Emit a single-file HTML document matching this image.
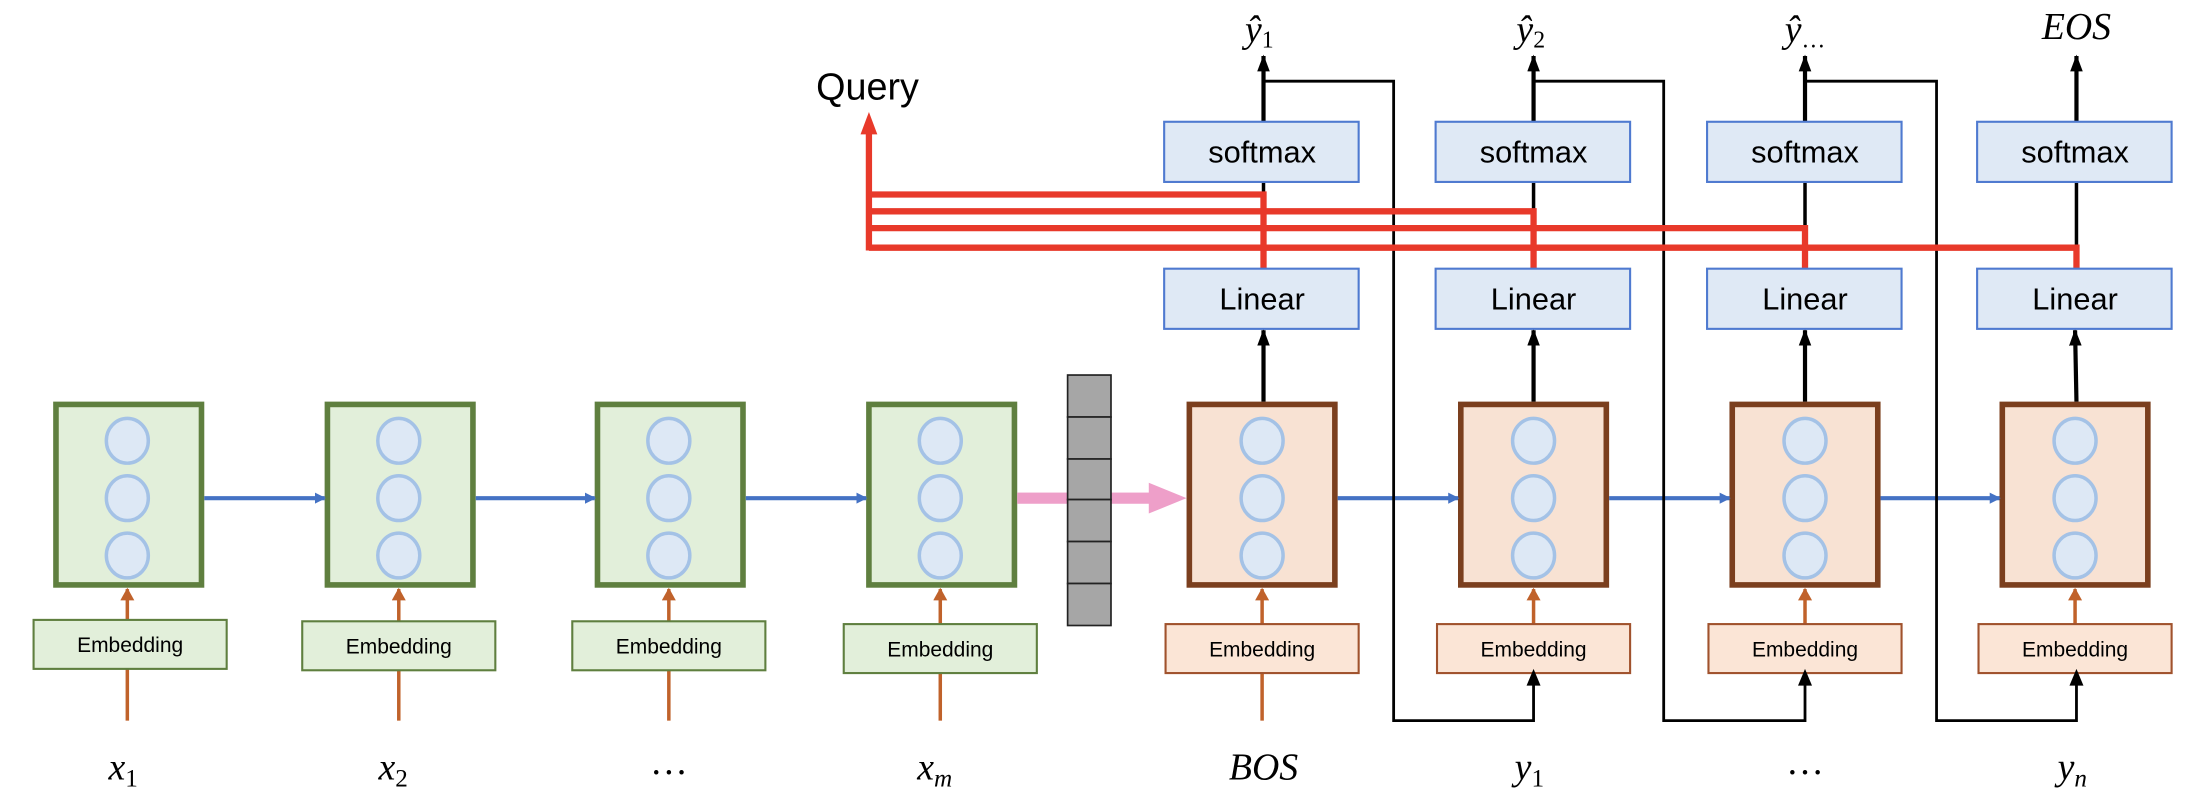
<!DOCTYPE html>
<html><head><meta charset="utf-8"><style>html,body{margin:0;padding:0;background:#fff}svg{display:block}</style></head>
<body>
<svg width="2194" height="808" viewBox="0 0 1568 577.4" xmlns="http://www.w3.org/2000/svg">
<defs>
<marker id="ab" markerWidth="8" markerHeight="8" refX="7" refY="4" orient="auto" markerUnits="userSpaceOnUse"><path d="M0,0 L8,4 L0,8 z" fill="#4472c4"/></marker>
<marker id="ao" markerWidth="9" markerHeight="10" refX="8" refY="5" orient="auto" markerUnits="userSpaceOnUse"><path d="M0,0 L9,5 L0,10 z" fill="#c0622b"/></marker>
<marker id="ak" markerWidth="12" markerHeight="9" refX="11" refY="4.5" orient="auto" markerUnits="userSpaceOnUse"><path d="M0,0 L12,4.5 L0,9 z" fill="#000"/></marker>
<marker id="ar" markerWidth="14" markerHeight="11" refX="13" refY="5.5" orient="auto" markerUnits="userSpaceOnUse"><path d="M0,0 L14,5.5 L0,11 z" fill="#e8392a"/></marker>
</defs>
<g font-family="Liberation Sans, DejaVu Sans, sans-serif">
<!-- encoder -->
<g id="enc">
</g>
<!-- encoder boxes -->
<g stroke-width="4">
<rect x="40" y="289" width="104" height="129" fill="#e2efda" stroke="#5f7f3f"/>
<rect x="234" y="289" width="104" height="129" fill="#e2efda" stroke="#5f7f3f"/>
<rect x="427" y="289" width="104" height="129" fill="#e2efda" stroke="#5f7f3f"/>
<rect x="621" y="289" width="104" height="129" fill="#e2efda" stroke="#5f7f3f"/>
<rect x="850" y="289" width="104" height="129" fill="#f8e2d3" stroke="#7b3f1e"/>
<rect x="1044" y="289" width="104" height="129" fill="#f8e2d3" stroke="#7b3f1e"/>
<rect x="1238" y="289" width="104" height="129" fill="#f8e2d3" stroke="#7b3f1e"/>
<rect x="1431" y="289" width="104" height="129" fill="#f8e2d3" stroke="#7b3f1e"/>
</g>
<g fill="#dde8f5" stroke="#a4c2e6" stroke-width="2.5">
<ellipse cx="91" cy="315" rx="15" ry="16"/><ellipse cx="91" cy="356" rx="15" ry="16"/><ellipse cx="91" cy="397" rx="15" ry="16"/>
<ellipse cx="285" cy="315" rx="15" ry="16"/><ellipse cx="285" cy="356" rx="15" ry="16"/><ellipse cx="285" cy="397" rx="15" ry="16"/>
<ellipse cx="478" cy="315" rx="15" ry="16"/><ellipse cx="478" cy="356" rx="15" ry="16"/><ellipse cx="478" cy="397" rx="15" ry="16"/>
<ellipse cx="672" cy="315" rx="15" ry="16"/><ellipse cx="672" cy="356" rx="15" ry="16"/><ellipse cx="672" cy="397" rx="15" ry="16"/>
<ellipse cx="902" cy="315" rx="15" ry="16"/><ellipse cx="902" cy="356" rx="15" ry="16"/><ellipse cx="902" cy="397" rx="15" ry="16"/>
<ellipse cx="1096" cy="315" rx="15" ry="16"/><ellipse cx="1096" cy="356" rx="15" ry="16"/><ellipse cx="1096" cy="397" rx="15" ry="16"/>
<ellipse cx="1290" cy="315" rx="15" ry="16"/><ellipse cx="1290" cy="356" rx="15" ry="16"/><ellipse cx="1290" cy="397" rx="15" ry="16"/>
<ellipse cx="1483" cy="315" rx="15" ry="16"/><ellipse cx="1483" cy="356" rx="15" ry="16"/><ellipse cx="1483" cy="397" rx="15" ry="16"/>
</g>
<!-- blue arrows -->
<g stroke="#4472c4" stroke-width="3" marker-end="url(#ab)">
<line x1="146" y1="356" x2="232" y2="356"/><line x1="340" y1="356" x2="425" y2="356"/><line x1="533" y1="356" x2="619" y2="356"/>
<line x1="956" y1="356" x2="1042" y2="356"/><line x1="1150" y1="356" x2="1236" y2="356"/><line x1="1344" y1="356" x2="1429" y2="356"/>
</g>
<!-- pink -->
<rect x="727" y="352" width="36" height="8" fill="#ee9fc9"/>
<rect x="794" y="352" width="28" height="8" fill="#ee9fc9"/>
<path d="M821,345 L848,356 L821,367 z" fill="#ee9fc9"/>
<!-- gray vector -->
<g fill="#a6a6a6" stroke="#222" stroke-width="1.2">
<rect x="763" y="268" width="31" height="30"/><rect x="763" y="298" width="31" height="30"/><rect x="763" y="328" width="31" height="29"/>
<rect x="763" y="357" width="31" height="30"/><rect x="763" y="387" width="31" height="30"/><rect x="763" y="417" width="31" height="30"/>
</g>
<!-- orange arrows -->
<g stroke="#c0622b" stroke-width="2.5">
<line x1="91" y1="515" x2="91" y2="478"/><line x1="285" y1="515" x2="285" y2="479"/><line x1="478" y1="515" x2="478" y2="479"/><line x1="672" y1="515" x2="672" y2="479"/>
<line x1="902" y1="515" x2="902" y2="479"/>
</g>
<g stroke="#c0622b" stroke-width="2.5" marker-end="url(#ao)">
<line x1="91" y1="443" x2="91" y2="421"/><line x1="285" y1="444" x2="285" y2="421"/><line x1="478" y1="444" x2="478" y2="421"/><line x1="672" y1="446" x2="672" y2="421"/>
<line x1="902" y1="446" x2="902" y2="421"/><line x1="1096" y1="446" x2="1096" y2="421"/><line x1="1290" y1="446" x2="1290" y2="421"/><line x1="1483" y1="446" x2="1483" y2="421"/>
</g>
<!-- embedding boxes -->
<g font-size="15" text-anchor="middle">
<rect x="24" y="443" width="138" height="35" fill="#e2efda" stroke="#5f7f3f" stroke-width="1.5"/><text x="93" y="466">Embedding</text>
<rect x="216" y="444" width="138" height="35" fill="#e2efda" stroke="#5f7f3f" stroke-width="1.5"/><text x="285" y="467">Embedding</text>
<rect x="409" y="444" width="138" height="35" fill="#e2efda" stroke="#5f7f3f" stroke-width="1.5"/><text x="478" y="467">Embedding</text>
<rect x="603" y="446" width="138" height="35" fill="#e2efda" stroke="#5f7f3f" stroke-width="1.5"/><text x="672" y="469">Embedding</text>
<rect x="833" y="446" width="138" height="35" fill="#fbe5d6" stroke="#a0522d" stroke-width="1.5"/><text x="902" y="469">Embedding</text>
<rect x="1027" y="446" width="138" height="35" fill="#fbe5d6" stroke="#a0522d" stroke-width="1.5"/><text x="1096" y="469">Embedding</text>
<rect x="1221" y="446" width="138" height="35" fill="#fbe5d6" stroke="#a0522d" stroke-width="1.5"/><text x="1290" y="469">Embedding</text>
<rect x="1414" y="446" width="138" height="35" fill="#fbe5d6" stroke="#a0522d" stroke-width="1.5"/><text x="1483" y="469">Embedding</text>
</g>
<!-- black arrows -->
<g stroke="#000" stroke-width="3" marker-end="url(#ak)">
<line x1="903" y1="287" x2="903" y2="236"/><line x1="1096" y1="287" x2="1096" y2="236"/><line x1="1290" y1="287" x2="1290" y2="236"/><line x1="1484" y1="287" x2="1483" y2="236"/>
<line x1="903" y1="87" x2="903" y2="40"/><line x1="1096" y1="87" x2="1096" y2="40"/><line x1="1290" y1="87" x2="1290" y2="40"/><line x1="1484" y1="87" x2="1484" y2="40"/>
</g>
<g stroke="#000" stroke-width="2.5">
<line x1="903" y1="130" x2="903" y2="192"/><line x1="1096" y1="130" x2="1096" y2="192"/><line x1="1290" y1="130" x2="1290" y2="192"/><line x1="1484" y1="130" x2="1484" y2="192"/>
</g>
<!-- feedback -->
<g stroke="#000" stroke-width="2" fill="none">
<polyline points="903,58 996,58 996,515 1096,515 1096,488"/>
<polyline points="1096,58 1189,58 1189,515 1290,515 1290,488"/>
<polyline points="1290,58 1384,58 1384,515 1484,515 1484,488"/>
</g>
<g fill="#000">
<path d="M1091,490 L1096,478 L1101,490 z"/><path d="M1285,490 L1290,478 L1295,490 z"/><path d="M1479,490 L1484,478 L1489,490 z"/>
</g>
<!-- red -->
<g stroke="#e8392a" stroke-width="4.5" fill="none">
<polyline points="903,192 903,139 621,139"/>
<polyline points="1096,192 1096,151 621,151"/>
<polyline points="1290,192 1290,163 621,163"/>
<polyline points="1484,192 1484,177 621,177"/>
<line x1="621" y1="179" x2="621" y2="94"/>
</g>
<path d="M615,96 L621,80 L627,96 z" fill="#e8392a"/>
<!-- linear / softmax -->
<g fill="#dfe9f5" stroke="#4f7ad0" stroke-width="1.5">
<rect x="832" y="192" width="139" height="43"/><rect x="1026" y="192" width="139" height="43"/><rect x="1220" y="192" width="139" height="43"/><rect x="1413" y="192" width="139" height="43"/>
<rect x="832" y="87" width="139" height="43"/><rect x="1026" y="87" width="139" height="43"/><rect x="1220" y="87" width="139" height="43"/><rect x="1413" y="87" width="139" height="43"/>
</g>
<g font-size="22" text-anchor="middle">
<text x="902" y="221">Linear</text><text x="1096" y="221">Linear</text><text x="1290" y="221">Linear</text><text x="1483" y="221">Linear</text>
<text x="902" y="116">softmax</text><text x="1096" y="116">softmax</text><text x="1290" y="116">softmax</text><text x="1483" y="116">softmax</text>
</g>
<text x="620" y="71" font-size="27" text-anchor="middle">Query</text>
</g>
<!-- math labels -->
<g font-family="Liberation Serif, DejaVu Serif, serif" font-style="italic" font-size="27" text-anchor="middle">
<text x="88" y="557">x<tspan font-size="18" font-style="normal" dy="5">1</tspan></text>
<text x="281" y="557">x<tspan font-size="18" font-style="normal" dy="5">2</tspan></text>
<text x="478" y="553" font-style="normal">…</text>
<text x="668" y="557">x<tspan font-size="18" dy="5">m</tspan></text>
<text x="903" y="557">BOS</text>
<text x="1093" y="557">y<tspan font-size="18" font-style="normal" dy="5">1</tspan></text>
<text x="1290" y="553" font-style="normal">…</text>
<text x="1481" y="557">y<tspan font-size="18" dy="5">n</tspan></text>
<text x="900" y="30">ŷ<tspan font-size="17" font-style="normal" dy="4">1</tspan></text>
<text x="1094" y="30">ŷ<tspan font-size="17" font-style="normal" dy="4">2</tspan></text>
<text x="1290" y="30">ŷ<tspan font-size="17" font-style="normal" dy="4">…</tspan></text>
<text x="1484" y="28">EOS</text>
</g>
</svg>
</body></html>
